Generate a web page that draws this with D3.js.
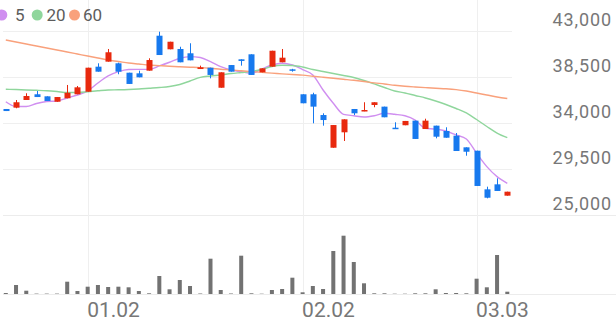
<!DOCTYPE html>
<html>
<head>
<meta charset="utf-8">
<script src="https://cdn.jsdelivr.net/npm/d3@7"></script>
<style>
  html, body { margin: 0; padding: 0; background: #fff; }
  svg { display: block; font-family: Roboto, sans-serif; }
</style>
</head>
<body>
<div id="chart"></div>
<script>
// daily candles, oldest first
const open  = [35370, 35500, 36250, 36810, 36610, 36080, 36420, 36810, 37060, 39510,
               40000, 39840, 38920, 38860, 39120, 42540, 41210, 41240, 40820, 39280,
               39410, 37450, 39670, 40230, 40720, 38960, 39510, 39940, 39250, 36810,
               36810, 34780, 31580, 33090, 35370, 35150, 35760, 35600, 33540, 33780,
               34230, 33410, 33740, 33220, 32760, 31620, 31290, 27510, 28000, 26890];
const high  = [35370, 36250, 36910, 37130, 36610, 36540, 37720, 37620, 39410, 39840,
               41240, 39900, 38920, 39120, 40330, 42930, 41950, 41460, 41800, 39610,
               39410, 38960, 39670, 40230, 40720, 39350, 41070, 41240, 39300, 36810,
               36960, 34950, 33800, 34360, 35370, 36030, 36030, 35600, 34070, 34200,
               34230, 34420, 33740, 33580, 33020, 31620, 31290, 27770, 28590, 27280];
const low   = [35170, 35440, 36250, 36540, 36150, 36080, 36420, 36810, 37060, 39020,
               40000, 38770, 37820, 38470, 39120, 40650, 41210, 39940, 40130, 39280,
               38370, 37450, 39020, 39610, 38700, 38960, 39510, 39940, 39020, 35930,
               33970, 33740, 31580, 32240, 34780, 35150, 35540, 34560, 33440, 33780,
               32440, 33410, 32500, 32560, 31260, 30800, 27840, 26630, 27350, 26890];
const close = [35170, 36030, 36640, 36540, 36150, 36540, 36960, 37490, 39410, 39020,
               40920, 39020, 37820, 38470, 40160, 40650, 41950, 39940, 40130, 39450,
               38700, 38960, 39020, 40070, 38700, 39350, 41070, 40390, 39120, 35930,
               35600, 34290, 33800, 34360, 34950, 35270, 36030, 34560, 33440, 34200,
               32440, 34230, 32660, 32560, 31260, 31190, 27840, 26690, 27350, 27280];
const volume = [20000, 180000, 66000, 8000, 8000, 8000, 246000, 60000, 146000, 180000,
                140000, 146000, 134000, 60000, 14000, 360000, 94000, 280000, 160000, 10000,
                706000, 80000, 10000, 766000, 14000, 6000, 80000, 100000, 326000, 34000,
                160000, 100000, 860000, 1166000, 640000, 214000, 14000, 14000, 6000, 6000,
                14000, 14000, 94000, 20000, 20000, 14000, 306000, 134000, 780000, 46000];

// moving averages
const ma5  = [36080, 35610, 35610, 35910, 36100, 36150, 36450, 36740, 37130, 37910,
              38600, 39020, 39230, 39250, 39250, 39580, 39940, 40330, 40490, 40410,
              40000, 39510, 39190, 39020, 38860, 39280, 39670, 39840, 39670, 39230,
              38700, 37230, 35930, 34850, 34710, 34590, 34710, 34950, 34850, 34710,
              34290, 33480, 33410, 33220, 32830, 32440, 31040, 29730, 28750, 28100];
const ma20 = [37300, 37270, 37230, 37200, 37160, 37080, 36980, 36980, 37060, 37150,
              37230, 37250, 37280, 37330, 37400, 37470, 37570, 37770, 38110, 38470,
              38600, 38700, 38840, 38940, 39040, 39230, 39530, 39650, 39630, 39480,
              39230, 39040, 38840, 38650, 38450, 38160, 37820, 37470, 37130, 36940,
              36690, 36450, 36150, 35810, 35420, 34980, 34340, 33660, 33020, 32560];
const ma60 = [42120, 41920, 41730, 41530, 41340, 41140, 40950, 40750, 40550, 40360,
              40160, 40020, 39870, 39770, 39670, 39610, 39550, 39500, 39460, 39420,
              39350, 39260, 39190, 39110, 39030, 38950, 38880, 38810, 38740, 38680,
              38580, 38480, 38380, 38280, 38180, 38060, 37930, 37820, 37690, 37590,
              37520, 37460, 37400, 37350, 37270, 37130, 36930, 36740, 36540, 36400];

const priceTicks = [25000, 29500, 34000, 38500, 43000];
const dateTickIdx = [8, 29, 46];
const dateTickLabels = ['01.02', '02.02', '03.03'];
const legendLabels = ['5', '20', '60'];

const W = 616, H = 321;
const colors = {
  up: '#e8290e',
  down: '#1779ee',
  vol: '#727272',
  grid: '#efefef',
  ma: ['#d08ff0', '#8fd69c', '#f9a17c'],
  text: '#777'
};

const svg = d3.select('#chart').append('svg')
  .attr('width', W)
  .attr('height', H);

const x = d3.scaleLinear().domain([0, close.length - 1]).range([5.8, 507.3]);
const y = d3.scaleLinear().domain([25000, 43000]).range([215, 31]);
const yv = d3.scaleLinear().domain([0, 1580000]).range([294, 215]);

// grid
const grid = svg.append('g');
grid.selectAll('.hgrid')
  .data(priceTicks.filter(d => d !== 25000))
  .join('line')
  .attr('x1', 3).attr('x2', 512)
  .attr('y1', d => Math.round(y(d)) + 0.5).attr('y2', d => Math.round(y(d)) + 0.5)
  .attr('stroke', colors.grid);
grid.selectAll('.bgrid')
  .data([y(25000), yv(0)])
  .join('line')
  .attr('x1', 3).attr('x2', W)
  .attr('y1', d => Math.round(d) + 0.5).attr('y2', d => Math.round(d) + 0.5)
  .attr('stroke', '#ececec');
grid.selectAll('.vgrid')
  .data(dateTickIdx)
  .join('line')
  .attr('x1', d => Math.round(x(d)) + 0.5).attr('x2', d => Math.round(x(d)) + 0.5)
  .attr('y1', 0).attr('y2', 294)
  .attr('stroke', colors.grid);

// volume
svg.append('g').selectAll('rect')
  .data(volume)
  .join('rect')
  .attr('x', (d, i) => x(i) - 2)
  .attr('width', 4)
  .attr('y', d => yv(d))
  .attr('height', d => yv(0) - yv(d))
  .attr('fill', colors.vol);

// moving average lines
const line = d3.line().x((d, i) => x(i)).y(d => y(d)).curve(d3.curveMonotoneX);
[ma5, ma20, ma60].forEach((ma, k) => {
  svg.append('path')
    .attr('d', line(ma))
    .attr('fill', 'none')
    .attr('stroke', colors.ma[k])
    .attr('stroke-width', 1.4);
});

// candles
const candles = svg.append('g').selectAll('g')
  .data(close.map((c, i) => ({ i, o: open[i], h: high[i], l: low[i], c })))
  .join('g')
  .attr('fill', d => d.c >= d.o ? colors.up : colors.down)
  .attr('stroke', d => d.c >= d.o ? colors.up : colors.down);

candles.append('line')
  .attr('x1', d => Math.round(x(d.i)) + 0.5).attr('x2', d => Math.round(x(d.i)) + 0.5)
  .attr('y1', d => y(d.h)).attr('y2', d => y(d.l))
  .attr('stroke-width', 1);

candles.append('rect')
  .attr('x', d => Math.round(x(d.i)) - 2.5)
  .attr('width', 6)
  .attr('y', d => y(Math.max(d.o, d.c)))
  .attr('height', d => Math.max(1.5, Math.abs(y(d.o) - y(d.c))))
  .attr('stroke', 'none');

// price axis
const yAxis = svg.append('g')
  .attr('transform', 'translate(612,0)')
  .call(d3.axisLeft(y).tickValues(priceTicks).tickSize(0).tickPadding(0).tickFormat(d3.format(',')));
yAxis.select('.domain').remove();
yAxis.selectAll('text')
  .attr('dy', -5.5)
  .attr('fill', colors.text)
  .style('font-size', '18px')
  .style('letter-spacing', '0.9px')
  .style('font-family', 'Roboto, sans-serif');

// date axis
const xAxis = svg.append('g')
  .attr('transform', 'translate(0,294)')
  .call(d3.axisBottom(x).tickValues(dateTickIdx).tickSize(0).tickPadding(0)
    .tickFormat((d, i) => dateTickLabels[i]));
xAxis.select('.domain').remove();
xAxis.selectAll('text')
  .attr('text-anchor', 'start')
  .attr('dy', 0)
  .attr('y', 23)
  .attr('x', -1)
  .attr('fill', colors.text)
  .style('font-size', '21px')
  .style('font-family', 'Roboto, sans-serif');

// legend
const legendX = [[1.8, 15], [37.2, 46.5], [74.5, 83]];
const legend = svg.append('g');
legendLabels.forEach((lab, k) => {
  legend.append('circle')
    .attr('cx', legendX[k][0]).attr('cy', 15).attr('r', 5.5)
    .attr('fill', colors.ma[k]);
  legend.append('text')
    .attr('x', legendX[k][1]).attr('y', 21)
    .attr('fill', '#5c5c5c')
    .style('font-size', '17px')
    .text(lab);
});
</script>
</body>
</html>
